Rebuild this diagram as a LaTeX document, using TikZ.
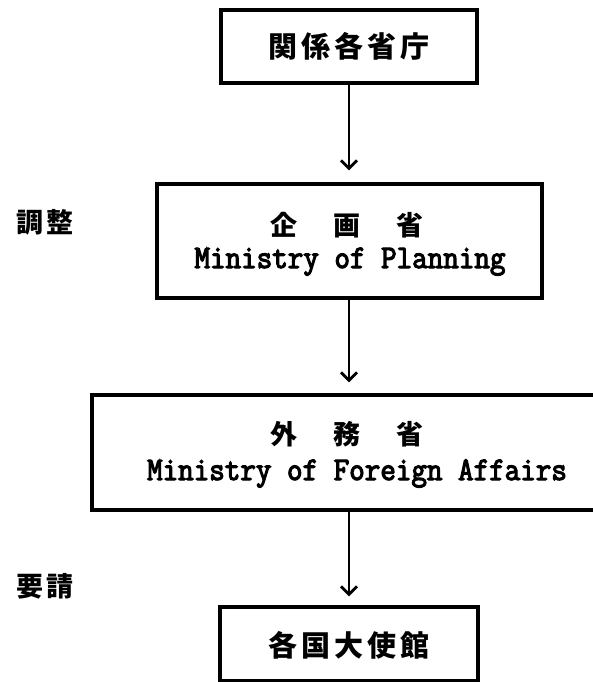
\documentclass[tikz,border=0pt]{standalone}
\usepackage{fontspec}
\newfontfamily\jp{Noto Sans CJK JP}
\newfontfamily\lat{Latin Modern Mono}[FakeStretch=0.915, FakeBold=3.5]
\usetikzlibrary{arrows.meta}
\begin{document}
\begin{tikzpicture}[x=1pt,y=-1pt,
 box/.style={draw, line width=3.1pt, inner sep=0pt},
 cj/.style={font=\jp\bfseries\fontsize{29}{29}\selectfont, inner sep=0pt, anchor=base},
 cjs/.style={font=\jp\bfseries\fontsize{27}{27}\selectfont, inner sep=0pt, anchor=base},
 side/.style={font=\jp\bfseries\fontsize{27}{27}\selectfont, inner sep=0pt, anchor=base},
 lt/.style={font=\lat\fontsize{33}{33}\selectfont, inner sep=0pt, anchor=base},
 arr/.style={line width=2.9pt, -{Straight Barb[length=8pt,width=16pt]}},
]
\useasboundingbox (0,0) rectangle (593,682);
\clip (0,0) rectangle (593,682);
% boxes
\node[box, minimum width=256pt, minimum height=73pt] (b1) at (349,46.5) {};
\node[box, minimum width=385pt, minimum height=114pt] (b2) at (349.5,241) {};
\node[box, minimum width=530pt, minimum height=115pt] (b3) at (357,452.5) {};
\node[box, minimum width=258pt, minimum height=74pt] (b4) at (349,644) {};
% texts
\node[cj] (t1) at (349,58) {関\kern4pt 係\kern4pt 各\kern4pt 省\kern4pt 庁};
\node[cjs] (t2j) at (347,235) {企\hspace{36pt}画\hspace{36pt}省};
\node[lt] (t2l) at (350,268) {Ministry of Planning};
\node[cjs] (t3j) at (347,444) {外\hspace{36pt}務\hspace{36pt}省};
\node[lt] (t3l) at (357,480) {Ministry of Foreign Affairs};
\node[cj] (t4) at (349,656) {各\kern4pt 国\kern4pt 大\kern4pt 使\kern4pt 館};
\node[side] (s1) at (45,232) {調\kern3pt 整};
\node[side] (s2) at (45,596) {要\kern3pt 請};
% connector end points
\coordinate (a2s) at (b2.south -| b1.south);
\coordinate (a2e) at (b3.north -| b1.south);
\coordinate (a3s) at (b3.south -| b4.north);
% connectors
\draw[arr, shorten >=12pt] (b1.south) -- (b1.south |- b2.north);
\draw[arr, shorten >=11pt] (a2s) -- (a2e);
\draw[arr, shorten >=9pt] (a3s) -- (b4.north);
\end{tikzpicture}
\end{document}
